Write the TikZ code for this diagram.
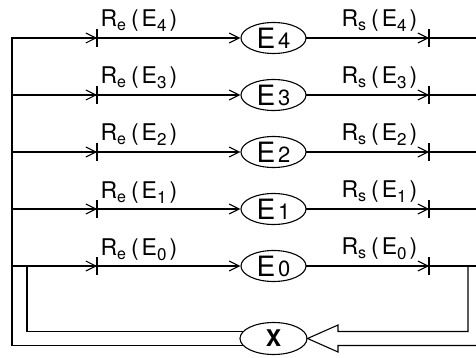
\documentclass[tikz,border=0pt]{standalone}
\usepackage{fontspec}
\setmainfont{TeX Gyre Heros}
\usetikzlibrary{arrows.meta,shapes.geometric}
\newcommand\rlab[2]{R\raisebox{-4pt}{\fontsize{16}{16}\selectfont #1}\hspace{5pt}(\hspace{3pt}E\raisebox{-5pt}{\fontsize{17}{17}\selectfont #2}\hspace{3pt})}
\newcommand\ename[1]{{\fontsize{28}{28}\selectfont E}\hspace{3pt}{\fontsize{22}{22}\selectfont #1}}
\begin{document}
\begin{tikzpicture}[x=1pt,y=-1pt,line width=1.1pt,line cap=rect,
  arr/.style={-{Straight Barb[length=10pt,width=10pt,line width=1.1pt]}},
  ell/.style={draw,ellipse,minimum width=65pt,minimum height=31pt,inner sep=0pt},
  lab/.style={anchor=base west,inner sep=0pt,font=\fontsize{23}{23}\selectfont}]
\useasboundingbox (0,0) rectangle (476,358);
\foreach \i/\y in {4/38,3/95,2/152,1/209,0/266}{
  \coordinate (L\i) at (12,\y);
  \coordinate (A\i) at (97,\y);
  \node[ell] (E\i) at (273.5,\y) {\ename{\i}};
  \coordinate (B\i) at (429,\y);
  \coordinate (R\i) at (476,\y);
  \draw[arr] (L\i) -- (A\i);
  \draw ([yshift=-8pt]A\i) -- ([yshift=8pt]A\i);
  \draw[arr] (A\i) -- (E\i);
  \draw[arr] (E\i) -- (B\i);
  \draw ([yshift=-8pt]B\i) -- ([yshift=8pt]B\i);
  \draw (B\i) -- (R\i);
  \node[lab] (le\i) at (100,\y-11) {\rlab{e}{\i}};
  \node[lab] (ls\i) at (341,\y-11.5) {\rlab{s}{\i}};
}
\node[ell,minimum width=67pt,minimum height=32pt,font=\fontsize{23}{23}\selectfont\bfseries] (X) at (273.5,338.5) {X};
% return channel on the left
\coordinate (ci) at (27,266);
\coordinate (xi) at (243.4,331.5);
\coordinate (xo) at (243.4,345.5);
\draw (L4) |- (xo);
\draw (ci) |- (xi);
% hollow arrow on the right
\coordinate (rc) at (468,266);
\coordinate (h1) at (338,331.5);
\coordinate (h2) at (338,325);
\coordinate (h3) at (338,352);
\coordinate (h4) at (338,345.5);
\coordinate (h5) at (476,345.5);
\draw[line cap=butt] (rc) |- (h1) -- (h2) -- (X.east) -- (h3) -- (h4) -- (h5);
\end{tikzpicture}
\end{document}
